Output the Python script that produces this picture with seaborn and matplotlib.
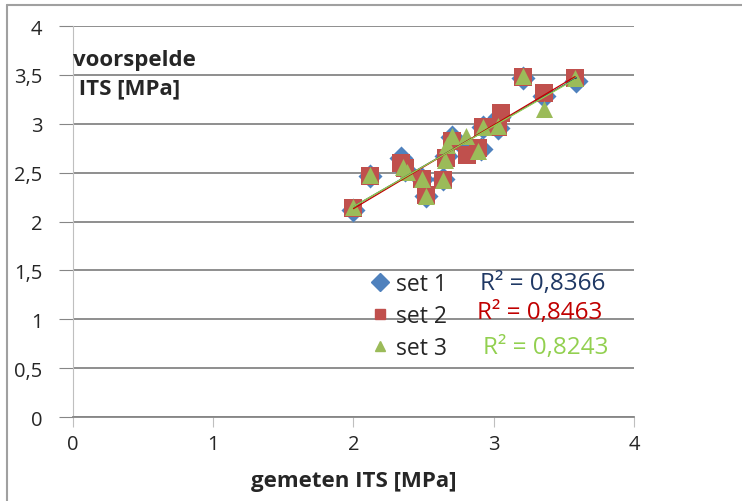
import numpy as np
import pandas as pd
import seaborn as sns
import matplotlib.pyplot as plt
from matplotlib.lines import Line2D
from matplotlib.ticker import FuncFormatter

# gemeten vs voorspelde ITS per set
x1 = [2.00, 2.12, 2.34, 2.37, 2.49, 2.52, 2.64, 2.66, 2.70, 2.81, 2.91, 2.92, 3.03, 3.04, 3.21, 3.36, 3.59]
y1 = [2.12, 2.47, 2.65, 2.53, 2.44, 2.26, 2.44, 2.67, 2.86, 2.74, 2.74, 2.97, 2.96, 3.07, 3.47, 3.28, 3.44]
x2 = [2.00, 2.12, 2.34, 2.37, 2.49, 2.52, 2.64, 2.66, 2.70, 2.81, 2.89, 2.92, 3.03, 3.05, 3.21, 3.36, 3.58]
y2 = [2.14, 2.47, 2.60, 2.55, 2.43, 2.27, 2.42, 2.65, 2.82, 2.68, 2.75, 2.97, 2.97, 3.11, 3.48, 3.31, 3.47]
x3 = [2.00, 2.12, 2.35, 2.38, 2.49, 2.52, 2.64, 2.65, 2.67, 2.70, 2.80, 2.89, 2.92, 3.03, 3.21, 3.36, 3.58]
y3 = [2.15, 2.48, 2.56, 2.51, 2.43, 2.26, 2.42, 2.63, 2.78, 2.87, 2.87, 2.72, 2.97, 2.98, 3.49, 3.15, 3.47]
r2_labels = ["R² = 0,8366", "R² = 0,8463", "R² = 0,8243"]

sets = [("set 1", x1, y1, "D", "#4F81BD", "#1F3864"),
        ("set 2", x2, y2, "s", "#C0504D", "#C00000"),
        ("set 3", x3, y3, "^", "#9BBB59", "#92D050")]

sns.set_style("white")
plt.rcParams['font.family'] = ['Open Sans', 'DejaVu Sans']

fig = plt.figure(figsize=(7.42, 5.02), dpi=100)
ax = fig.add_axes([0.0984, 0.1673, 0.756, 0.7789])

for name, xs, ys, mk, col, tcol in sets:
    df = pd.DataFrame({"x": xs, "y": ys})
    sns.scatterplot(data=df, x="x", y="y", marker=mk, color=col, s=150,
                    linewidth=0, ax=ax, zorder=3)
for name, xs, ys, mk, col, tcol in sets:
    df = pd.DataFrame({"x": xs, "y": ys})
    sns.regplot(data=df, x="x", y="y", scatter=False, ci=None, truncate=True,
                color=tcol, line_kws={"lw": 0.9, "zorder": 4}, ax=ax)

ax.set_xlim(0, 4)
ax.set_ylim(0, 4)
ax.set_xticks(np.arange(0, 4.01, 1))
ax.set_yticks(np.arange(0, 4.01, 0.5))
fmt = FuncFormatter(lambda v, p: ("%g" % v).replace(".", ","))
ax.xaxis.set_major_formatter(fmt)
ax.yaxis.set_major_formatter(fmt)
ax.yaxis.grid(True, color="#868686", lw=1.3)
ax.xaxis.grid(False)
ax.set_axisbelow(True)
for s in ["top", "right"]:
    ax.spines[s].set_visible(False)
ax.spines["left"].set_color("#BFBFBF")
ax.spines["bottom"].set_color("#868686")
ax.spines["bottom"].set_linewidth(1.3)
ax.tick_params(axis="both", labelsize=14.5, length=0, pad=12)
ax.tick_params(axis="x", length=7, color="#BFBFBF", pad=5, direction="out", bottom=True)
ax.tick_params(axis="y", length=10, color="#868686", direction="out", left=True)

ax.set_xlabel("gemeten ITS [MPa]", fontsize=16, fontweight="bold", labelpad=12)
ax.set_ylabel("")
ax.text(0.0, 3.515, "voorspelde\n ITS [MPa]", fontsize=16, fontweight="bold",
        ha="left", va="center", linespacing=1.45)

handles = [Line2D([], [], marker="D", color="#4F81BD", ls="", markersize=9),
           Line2D([], [], marker="s", color="#C0504D", ls="", markersize=7.5),
           Line2D([], [], marker="^", color="#9BBB59", ls="", markersize=7)]
ax.legend(handles, [s[0] for s in sets], loc="upper left", bbox_to_anchor=(0.49, 0.424),
          frameon=False, fontsize=16.5, handletextpad=0.2, labelspacing=0.35,
          handlelength=1.0)

r2_pos = [(2.90, 1.37), (2.88, 1.07), (2.92, 0.72)]
for (px, py), lab, s in zip(r2_pos, r2_labels, sets):
    ax.text(px, py, lab, color=s[5], fontsize=17.5, ha="left", va="center")

fig.add_artist(Line2D([0.0094, 0.0094], [0.0, 0.988], color="#A0A0A0", lw=1.5))
fig.add_artist(Line2D([0.0094, 1.0], [0.988, 0.988], color="#A0A0A0", lw=1.5))

fig.savefig("out.png", dpi=100)
